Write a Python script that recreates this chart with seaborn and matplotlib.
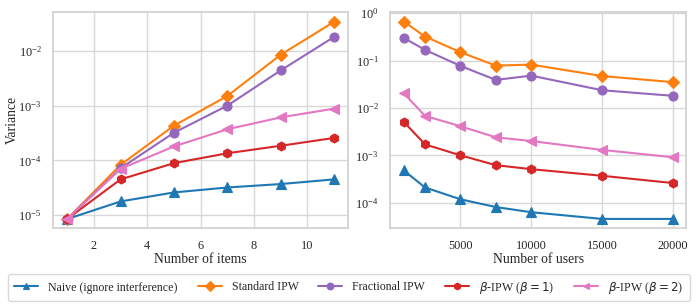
import numpy as np
import pandas as pd
import matplotlib
matplotlib.use("Agg")
import matplotlib.pyplot as plt
import seaborn as sns

# ---- data ----
items = [1, 3, 5, 7, 9, 11]
users = [1000, 2500, 5000, 7500, 10000, 15000, 20000]

methods = ["Naive (ignore interference)", "Standard IPW", "Fractional IPW",
           r"$\beta$-IPW ($\beta=1$)", r"$\beta$-IPW ($\beta=2$)"]

items_naive = [8.5e-6, 1.78e-5, 2.6e-5, 3.2e-5, 3.7e-5, 4.5e-5]
items_std = [8.5e-6, 8.3e-5, 4.3e-4, 1.5e-3, 8.5e-3, 3.4e-2]
items_frac = [8.5e-6, 7.2e-5, 3.2e-4, 1.0e-3, 4.4e-3, 1.8e-2]
items_b1 = [8.5e-6, 4.5e-5, 8.9e-5, 1.35e-4, 1.85e-4, 2.57e-4]
items_b2 = [8.5e-6, 7.0e-5, 1.8e-4, 3.7e-4, 6.1e-4, 8.8e-4]

users_naive = [4.8e-4, 2.1e-4, 1.18e-4, 8.1e-5, 6.3e-5, 4.55e-5, 4.55e-5]
users_std = [0.665, 0.32, 0.15, 0.078, 0.082, 0.047, 0.035]
users_frac = [0.30, 0.168, 0.077, 0.039, 0.048, 0.0236, 0.018]
users_b1 = [5.1e-3, 1.7e-3, 1.0e-3, 6.2e-4, 5.1e-4, 3.7e-4, 2.6e-4]
users_b2 = [2.04e-2, 6.8e-3, 4.1e-3, 2.4e-3, 2.0e-3, 1.3e-3, 9.1e-4]

colors = ["#1f77b4", "#ff7f0e", "#9467bd", "#d62728", "#e377c2"]
markers = ["^", "D", "o", "h", "<"]
msizes = [6.5, 6.5, 6.5, 6.5, 6.5]

sns.set_theme(style="whitegrid")
plt.rcParams["font.family"] = ["Liberation Serif", "DejaVu Serif"]
plt.rcParams["mathtext.fontset"] = "dejavusans"
plt.rcParams["axes.edgecolor"] = "#d0d0d0"
plt.rcParams["grid.color"] = "#d8d8d8"

fig = plt.figure(figsize=(6.98, 3.06), dpi=100)
W, H = 698, 306
ax1 = fig.add_axes([53.3 / W, 1 - 228.3 / H, (348 - 53.3) / W, (228.3 - 11.7) / H])
ax2 = fig.add_axes([390.3 / W, 1 - 228.3 / H, (686.3 - 390.3) / W, (228.3 - 11.7) / H])

left_series = [items_naive, items_std, items_frac, items_b1, items_b2]
right_series = [users_naive, users_std, users_frac, users_b1, users_b2]

for i, name in enumerate(methods):
    df1 = pd.DataFrame({"x": items, "y": left_series[i]})
    df2 = pd.DataFrame({"x": users, "y": right_series[i]})
    kw = dict(color=colors[i], marker=markers[i], markersize=msizes[i],
              markeredgecolor=colors[i], markeredgewidth=0.8, linewidth=1.5)
    sns.lineplot(data=df1, x="x", y="y", ax=ax1, label=name, **kw)
    sns.lineplot(data=df2, x="x", y="y", ax=ax2, **kw)

for ax in (ax1, ax2):
    ax.set_yscale("log")
    ax.tick_params(labelsize=8.8, pad=2.5)
    ax.yaxis.set_minor_locator(matplotlib.ticker.NullLocator())
    for s in ax.spines.values():
        s.set_color("#d0d0d0")

ax1.set_xlabel("Number of items", fontsize=9.8, labelpad=1)
ax1.set_ylabel("Variance", fontsize=9.8)
ax1.yaxis.set_label_coords(-0.118, 0.5)
ax2.set_xlabel("Number of users", fontsize=9.8, labelpad=1)
ax2.set_ylabel("")
ax1.set_xticks([2, 4, 6, 8, 10])
ax2.set_xticks([5000, 10000, 15000, 20000])
ax1.set_xlim(0.48, 11.52)
ax2.set_xlim(50, 20950)
ax1.set_ylim(10 ** -5.24, 10 ** -1.285)
ax2.set_ylim(10 ** -4.54, 10 ** 0.03)

h, l = ax1.get_legend_handles_labels()
ax1.get_legend().remove()
leg = fig.legend(h, l, loc="center", ncol=5, bbox_to_anchor=(0.5, 1 - 287.5 / H),
                 fontsize=8.6, frameon=True, markerscale=0.75, handlelength=2.0,
                 columnspacing=1.65, handletextpad=0.85, borderpad=0.5)
leg.get_frame().set_edgecolor("#d0d0d0")

fig.savefig("out.png", dpi=100)
